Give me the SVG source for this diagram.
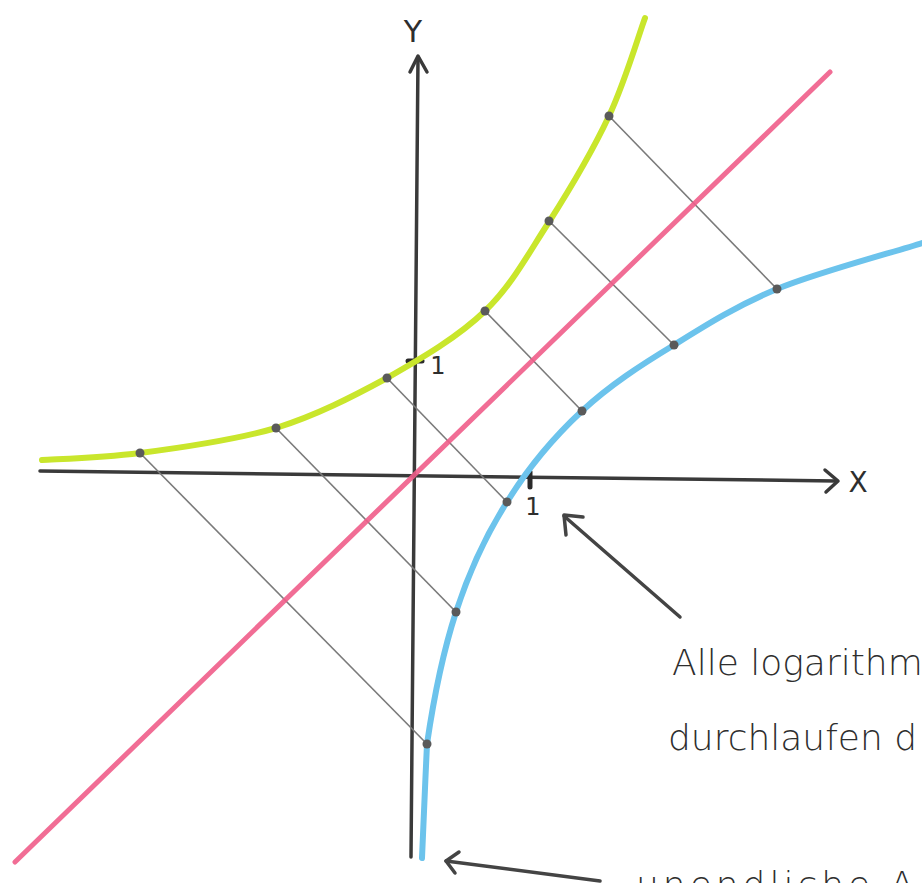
<svg xmlns="http://www.w3.org/2000/svg" width="922" height="883" viewBox="0 0 922 883">
<style>
.ax{stroke:#3a3a3a;stroke-width:3.5;fill:none;stroke-linecap:round;stroke-linejoin:round}
.tick{stroke:#2a2a2a;stroke-width:5;fill:none;stroke-linecap:round}
.conn{stroke:#7a7a7a;stroke-width:1.6;fill:none}
.dot{fill:#5a5a5a}
.lbl{font-family:"DejaVu Sans","Liberation Sans",sans-serif;fill:#2e2e2e}
.note{font-family:"DejaVu Sans","Liberation Sans",sans-serif;fill:#2e2e2e;font-size:36px;font-weight:300}
.arr{stroke:#444;stroke-width:3.5;fill:none;stroke-linecap:round;stroke-linejoin:round}
</style>
<rect width="922" height="883" fill="#ffffff"/>
<g id="axes">
  <g id="x-axis">
    <path class="ax" d="M40,471 L836,481"/>
    <path class="ax" d="M825,470 L838,481 L826,492"/>
    <text class="lbl" x="858" y="492" font-size="28" text-anchor="middle">X</text>
    <path class="tick" d="M530,472 L530,487"/>
    <text class="lbl" x="533" y="515" font-size="24" text-anchor="middle">1</text>
  </g>
  <g id="y-axis">
    <path class="ax" d="M411,857 L418,57"/>
    <path class="ax" d="M410,72 L418,56 L427,72"/>
    <text class="lbl" x="413" y="42" font-size="30" text-anchor="middle">Y</text>
    <path class="tick" d="M408,361 L422,361"/>
    <text class="lbl" x="438" y="374" font-size="24" text-anchor="middle">1</text>
  </g>
</g>
<g id="connectors">
  <line class="conn" x1="140" y1="453" x2="427" y2="744"/>
  <line class="conn" x1="276" y1="428" x2="456" y2="612"/>
  <line class="conn" x1="387" y1="378" x2="507" y2="502"/>
  <line class="conn" x1="485" y1="311" x2="582" y2="411"/>
  <line class="conn" x1="549" y1="221" x2="674" y2="345"/>
  <line class="conn" x1="609" y1="116" x2="777" y2="289"/>
</g>
<g id="line-y-equals-x">
  <path d="M15,862 L830,72" stroke="#ef5d8a" stroke-width="5" stroke-linecap="round" fill="none" opacity="0.9"/>
</g>
<g id="exp-curve">
  <path d="M42,460 C58,459 101,458 140,453 C179,448 235,440 276,428 C317,415 352,397 387,378 C422,358 458,337 485,311 C512,285 528,254 549,222 C570,189 593,150 609,116 C625,82 639,34 645,18" stroke="#c9e62c" stroke-width="6" stroke-linecap="round" fill="none"/>
</g>
<g id="log-curve">
  <path d="M422,858 C423,839 425,785 427,744 C433,703 443,652 456,612 C469,572 486,535 507,502 C528,468 554,437 582,411 C610,385 641,365 674,345 C706,325 736,306 777,289 C818,272 898,251 922,243" stroke="#6cc3ec" stroke-width="6" stroke-linecap="round" fill="none"/>
</g>
<g id="points">
  <circle class="dot" cx="140" cy="453" r="4.5"/>
  <circle class="dot" cx="276" cy="428" r="4.5"/>
  <circle class="dot" cx="387" cy="378" r="4.5"/>
  <circle class="dot" cx="485" cy="311" r="4.5"/>
  <circle class="dot" cx="549" cy="221" r="4.5"/>
  <circle class="dot" cx="609" cy="116" r="4.5"/>
  <circle class="dot" cx="427" cy="744" r="4.5"/>
  <circle class="dot" cx="456" cy="612" r="4.5"/>
  <circle class="dot" cx="507" cy="502" r="4.5"/>
  <circle class="dot" cx="582" cy="411" r="4.5"/>
  <circle class="dot" cx="674" cy="345" r="4.5"/>
  <circle class="dot" cx="777" cy="289" r="4.5"/>
</g>
<g id="note-1">
  <path class="arr" d="M680,617 L564,516"/>
  <path class="arr" d="M583,517 L564,515 L566,535"/>
  <text class="note" x="672" y="675">Alle  logarithm</text>
  <text class="note" x="668" y="750">durchlaufen  d</text>
</g>
<g id="note-2">
  <path class="arr" d="M600,881 L446,861"/>
  <path class="arr" d="M459,852 L446,861 L455,873"/>
  <text class="note" x="636" y="897" letter-spacing="4">unendliche A</text>
</g>
</svg>
